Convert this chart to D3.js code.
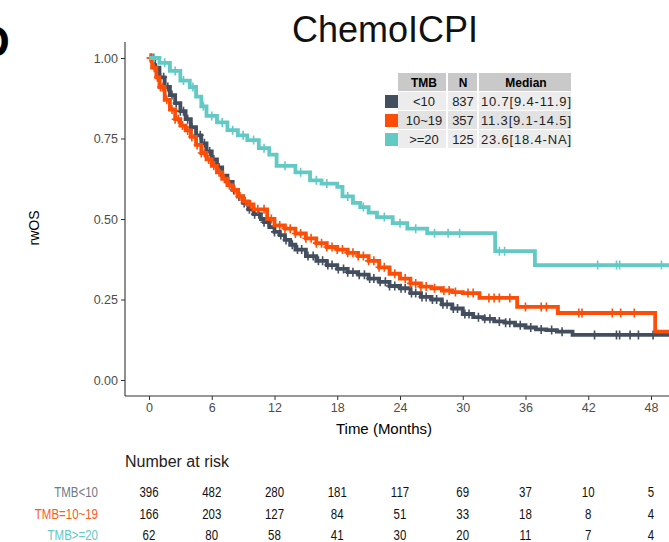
<!DOCTYPE html>
<html>
<head>
<meta charset="utf-8">
<script src="https://cdn.jsdelivr.net/npm/d3@7"></script>
<style>
  body { margin: 0; background: #fff; }
  svg { display: block; font-family: "Liberation Sans", Arial, sans-serif; }
</style>
</head>
<body>
<div id="chart"></div>
<script>
// ---- data ----
const groups = ["<10", "10~19", ">=20"];
const groupCounts = [837, 357, 125];
const groupMedians = ["10.7[9.4-11.9]", "11.3[9.1-14.5]", "23.6[18.4-NA]"];
const riskLabels = ["TMB<10", "TMB=10~19", "TMB>=20"];
const xTicks = [0, 6, 12, 18, 24, 30, 36, 42, 48];
const yTicks = [0, 0.25, 0.5, 0.75, 1];

// step points [months, survival]
const survLow = [
  [0, 1], [0.5, 0.97], [1, 0.94], [1.5, 0.91], [2, 0.885], [2.5, 0.86], [3, 0.835], [3.5, 0.81],
  [4, 0.785], [4.5, 0.76], [5, 0.735], [5.5, 0.71], [6, 0.685], [6.5, 0.66], [7, 0.635],
  [7.5, 0.615], [8, 0.59], [8.5, 0.57], [9, 0.55], [9.5, 0.53], [10, 0.515], [10.7, 0.5],
  [11, 0.49], [11.5, 0.475], [12, 0.46], [12.5, 0.45], [13, 0.435], [13.5, 0.42], [14, 0.405],
  [15, 0.385], [16, 0.37], [17, 0.357], [18, 0.345], [19, 0.335], [20, 0.327], [21, 0.315],
  [22, 0.305], [23, 0.292], [24, 0.285], [25, 0.27], [26, 0.258], [27, 0.25], [28, 0.235],
  [29, 0.222], [30, 0.205], [31, 0.195], [32, 0.19], [33, 0.182], [34, 0.178], [35, 0.17],
  [36, 0.163], [37, 0.157], [38, 0.155], [39, 0.15], [40.5, 0.14], [53, 0.14]
];
const survMid = [
  [0, 1], [0.3, 0.97], [0.7, 0.94], [1, 0.91], [1.5, 0.87], [2, 0.84], [2.5, 0.81], [3, 0.79],
  [3.5, 0.775], [4, 0.755], [4.5, 0.73], [5, 0.705], [5.5, 0.685], [6, 0.665], [6.5, 0.645],
  [7, 0.625], [7.5, 0.605], [8, 0.59], [8.5, 0.57], [9, 0.555], [9.5, 0.545], [10, 0.53],
  [11.3, 0.5], [12, 0.48], [13, 0.47], [14, 0.455], [15, 0.44], [16, 0.425], [17, 0.413],
  [18, 0.405], [19, 0.395], [20, 0.385], [21, 0.37], [22, 0.35], [23, 0.33], [24, 0.315],
  [25, 0.3], [26, 0.29], [27, 0.285], [28, 0.278], [29, 0.273], [30, 0.27], [31.6, 0.255],
  [35.2, 0.227], [39.1, 0.208], [48.4, 0.15], [53, 0.15]
];
const survHigh = [
  [0, 1], [1, 0.985], [2, 0.96], [3, 0.93], [3.9, 0.91], [4.5, 0.88], [5, 0.85], [5.5, 0.82],
  [6.5, 0.8], [7.5, 0.776], [8.5, 0.76], [9.4, 0.745], [10.5, 0.72], [11.5, 0.7], [12.2, 0.665],
  [14, 0.645], [15.4, 0.62], [16.5, 0.61], [18, 0.6], [18.5, 0.57], [19.5, 0.55], [20.2, 0.537],
  [21, 0.52], [21.8, 0.506], [23.3, 0.487], [24.7, 0.47], [26.6, 0.456], [33.1, 0.4],
  [36.9, 0.357], [53, 0.357]
];

// censoring times (months)
const censLow = [0.2, 0.4, 0.7, 1.1, 1.4, 1.8, 2.2, 2.6, 3.0, 3.3, 3.7, 4.1, 4.5, 4.9, 5.3, 5.8,
  6.2, 6.7, 7.1, 7.6, 8.1, 8.6, 9.1, 9.6, 10.1, 10.5, 11.0, 11.4, 12.0, 12.6, 13.1, 13.7, 14.2,
  14.6, 15.2, 15.7, 16.2, 16.6, 17.1, 17.5, 18.1, 18.6, 19.0, 19.5, 20.1, 20.6, 21.1, 21.5, 22.1,
  22.6, 23.0, 23.5, 24.1, 24.5, 25.1, 25.5, 26.1, 26.5, 27.1, 27.5, 28.1, 28.5, 29.1, 29.5, 30.2,
  30.6, 31.5, 32.1, 32.6, 33.5, 34.1, 34.5, 35.5, 36.5, 37.5, 38.5, 39.5, 42.6, 44.7, 45.0, 46.0,
  46.8, 48.2];
const censMid = [0.1, 0.2, 0.5, 0.8, 1.1, 1.3, 1.7, 2.2, 2.5, 2.8, 3.2, 3.7, 4.1, 4.6, 5.0, 5.3,
  5.7, 6.2, 6.7, 7.2, 7.7, 8.2, 8.7, 9.2, 9.7, 10.4, 11.0, 11.7, 12.5, 13.0, 13.5, 14.0, 14.5,
  15.0, 15.5, 16.0, 16.5, 17.0, 17.5, 18.0, 18.5, 19.0, 19.5, 20.0, 20.5, 21.0, 21.5, 22.0, 22.5,
  23.5, 24.5, 25.0, 25.5, 26.0, 26.5, 27.3, 28.2, 28.7, 29.3, 30.5, 31.0, 32.5, 33.0, 33.5, 34.5,
  36.0, 37.5, 38.0, 41.1, 41.4, 44.3, 45.1, 46.4];
const censHigh = [0.5, 1.5, 2.5, 3.3, 4.2, 5.2, 6.0, 7.0, 8.0, 9.0, 10.0, 11.0, 13.0, 14.5, 16.0,
  17.0, 19.0, 20.5, 22.5, 24.0, 25.5, 27.3, 28.6, 29.7, 33.5, 34.0, 42.9, 44.7, 45.0, 49.0];

const series = [
  { name: groups[0], color: "#434e5f", surv: survLow, cens: censLow },
  { name: groups[1], color: "#fc4e07", surv: survMid, cens: censMid },
  { name: groups[2], color: "#62c9c4", surv: survHigh, cens: censHigh }
];

// ---- layout ----
const width = 669, height = 542;
const panel = { left: 125, top: 42, bottom: 396 };

const svg = d3.select("#chart").append("svg")
  .attr("width", width)
  .attr("height", height);

svg.append("rect").attr("width", width).attr("height", height).attr("fill", "#fff");

const x = d3.scaleLinear().domain([0, 48]).range([149, 651]);
const y = d3.scaleLinear().domain([0, 1]).range([380, 58]);

// panel letter, cut off at the left edge as in the source figure
svg.append("text")
  .attr("x", -22).attr("y", 57)
  .attr("font-size", 44).attr("font-weight", "bold")
  .text("D");

svg.append("text")
  .attr("x", 385).attr("y", 42)
  .attr("text-anchor", "middle")
  .attr("font-size", 36)
  .attr("fill", "#111")
  .text("ChemoICPI");

// axes
const yAxis = svg.append("g")
  .attr("transform", `translate(${panel.left},0)`)
  .call(d3.axisLeft(y).tickValues(yTicks).tickFormat(d3.format(".2f")).tickSize(4).tickPadding(3));
yAxis.select(".domain").attr("d", `M0,${panel.top}V${panel.bottom}`);

const xAxis = svg.append("g")
  .attr("transform", `translate(0,${panel.bottom})`)
  .call(d3.axisBottom(x).tickValues(xTicks).tickSize(4).tickPadding(3));
xAxis.select(".domain").attr("d", `M${panel.left},0H${width + 5}`);

[yAxis, xAxis].forEach(g => {
  g.selectAll(".domain").attr("stroke", "#333").attr("stroke-width", 1.1);
  g.selectAll(".tick line").attr("stroke", "#333");
  g.selectAll("text").attr("fill", "#4d4d4d").attr("font-size", 12.5)
    .attr("font-family", "'Liberation Sans', Arial, sans-serif");
});

svg.append("text")
  .attr("transform", "translate(39,228) rotate(-90)")
  .attr("text-anchor", "middle")
  .attr("font-size", 14)
  .text("rwOS");

svg.append("text")
  .attr("x", 384).attr("y", 434)
  .attr("text-anchor", "middle")
  .attr("font-size", 15)
  .text("Time (Months)");

// curves
svg.append("clipPath").attr("id", "clip")
  .append("rect").attr("x", panel.left).attr("y", panel.top - 4)
  .attr("width", width - panel.left).attr("height", panel.bottom - panel.top + 4);

const plot = svg.append("g").attr("clip-path", "url(#clip)");

const line = d3.line()
  .x(d => x(d[0]))
  .y(d => y(d[1]))
  .curve(d3.curveStepAfter);

function survAt(surv, t) {
  let s = surv[0][1];
  for (const p of surv) { if (p[0] <= t) s = p[1]; }
  return s;
}

series.forEach(s => {
  plot.append("path")
    .datum(s.surv)
    .attr("fill", "none")
    .attr("stroke", s.color)
    .attr("stroke-width", 3.8)
    .attr("d", line);

  plot.selectAll(null)
    .data(s.cens)
    .enter()
    .append("path")
    .attr("transform", t => `translate(${x(t)},${y(survAt(s.surv, t))})`)
    .attr("d", "M-3.5,0H3.5M0,-4.5V4.5")
    .attr("stroke", s.color)
    .attr("stroke-width", 1.6);
});

// legend table
const tbl = { cols: [398, 448, 479, 573], top: 73, rowH: 19 };
const colCenters = [424, 463, 526];
const header = ["TMB", "N", "Median"];
const lg = svg.append("g").attr("font-size", 13);

header.forEach((h, i) => {
  lg.append("rect")
    .attr("x", tbl.cols[i]).attr("y", tbl.top)
    .attr("width", tbl.cols[i + 1] - tbl.cols[i] - 2).attr("height", tbl.rowH - 1)
    .attr("fill", "#c9c9c9");
  lg.append("text")
    .attr("x", colCenters[i]).attr("y", tbl.top + 14)
    .attr("text-anchor", "middle").attr("font-weight", "bold")
    .attr("font-size", 12)
    .text(h);
});

const rowFills = ["#ececec", "#e2e2e2", "#ececec"];
groups.forEach((g, r) => {
  const ry = tbl.top + (r + 1) * tbl.rowH;
  const cells = [g, groupCounts[r], groupMedians[r]];
  cells.forEach((c, i) => {
    lg.append("rect")
      .attr("x", tbl.cols[i]).attr("y", ry)
      .attr("width", tbl.cols[i + 1] - tbl.cols[i] - 2).attr("height", tbl.rowH - 1)
      .attr("fill", rowFills[r]);
    lg.append("text")
      .attr("x", colCenters[i]).attr("y", ry + 14)
      .attr("text-anchor", "middle")
      .attr("fill", "#222")
      .attr("textLength", i === 2 ? 90 : null)
      .text(c);
  });
  lg.append("rect")
    .attr("x", 385).attr("y", ry + 3)
    .attr("width", 13).attr("height", 13)
    .attr("fill", series[r].color);
});

// number at risk table (narrow lettering, squeezed horizontally)
svg.append("text")
  .attr("x", 125).attr("y", 467)
  .attr("font-size", 16)
  .attr("fill", "#222")
  .text("Number at risk");

const riskLow = [396, 482, 280, 181, 117, 69, 37, 10, 5];
const riskMid = [166, 203, 127, 84, 51, 33, 18, 8, 4];
const riskHigh = [62, 80, 58, 41, 30, 20, 11, 7, 4];
const riskRows = [riskLow, riskMid, riskHigh];
const riskColors = ["#6f7a8a", "#fc5a1e", "#62c9c4"];
const squeeze = 0.82;

riskRows.forEach((row, r) => {
  const ry = 497 + r * 21.5;
  svg.append("text")
    .attr("transform", `translate(98,${ry}) scale(${squeeze},1)`)
    .attr("text-anchor", "end")
    .attr("font-size", 14)
    .attr("fill", riskColors[r])
    .text(riskLabels[r]);
  svg.selectAll(null)
    .data(row)
    .enter()
    .append("text")
    .attr("transform", (d, i) => `translate(${x(xTicks[i])},${ry}) scale(${squeeze},1)`)
    .attr("text-anchor", "middle")
    .attr("font-size", 14)
    .attr("fill", "#111")
    .text(d => d);
});
</script>
</body>
</html>
